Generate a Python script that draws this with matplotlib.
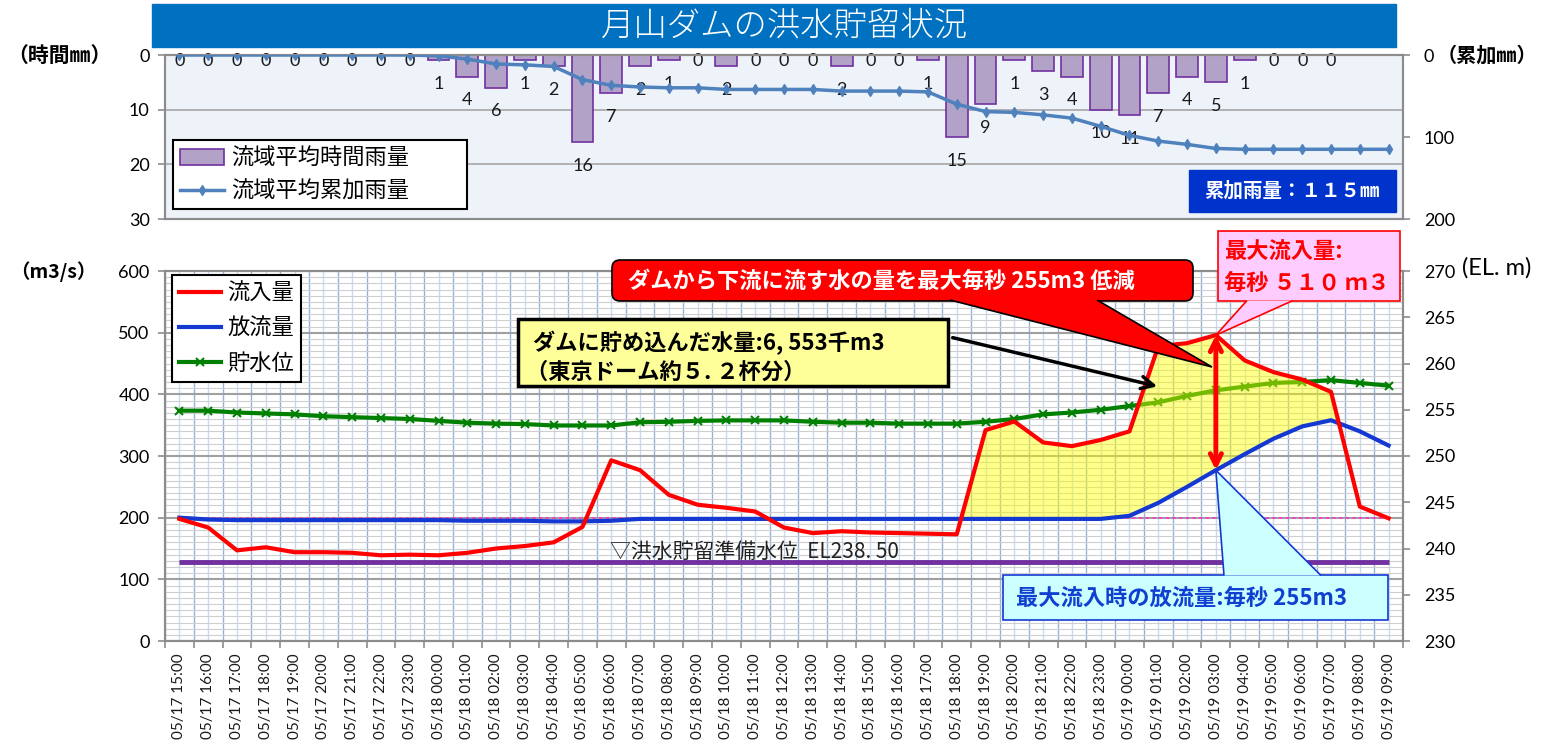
import numpy as np
import pandas as pd
import matplotlib
matplotlib.use("Agg")
import matplotlib.pyplot as plt
from matplotlib.patches import Rectangle, FancyBboxPatch, Polygon, FancyArrowPatch
from matplotlib.ticker import MultipleLocator
from matplotlib.transforms import IdentityTransform

W, H = 1551, 747
JP = ['Noto Sans CJK JP', 'DejaVu Sans']
plt.rcParams['font.family'] = ['Lato', 'Noto Sans CJK JP', 'DejaVu Sans']

# ---- データ (1時間ごと, 05/17 15:00 - 05/19 09:00) ----
times = pd.date_range("2018-05-17 15:00", periods=43, freq="h").strftime("%m/%d %H:%M")

rain = [0, 0, 0, 0, 0, 0, 0, 0, 0, 1, 4, 6, 1, 2, 16, 7, 2, 1, 0, 2, 0, 0,
        0, 2, 0, 0, 1, 15, 9, 1, 3, 4, 10, 11, 7, 4, 5, 1, 0, 0, 0, np.nan, np.nan]
cum_rain = [0, 0, 0, 0, 0, 0, 0, 0, 0, 1, 5, 11, 12, 14, 30, 37, 39, 40, 40, 42, 42, 42,
            42, 44, 44, 44, 45, 60, 69, 70, 73, 77, 87, 98, 105, 109, 114, 115, 115, 115,
            115, 115, 115]
inflow = [198, 184, 147, 152, 144, 144, 143, 139, 140, 139, 143, 150, 154, 160, 185,
          293, 277, 237, 221, 216, 210, 184, 175, 178, 176, 175, 174, 173, 342, 356,
          322, 316, 326, 340, 478, 483, 496, 455, 436, 424, 404, 218, 199]
outflow = [200, 197, 196, 196, 196, 196, 196, 196, 196, 196, 195, 195, 195, 194, 194,
           195, 198, 198, 198, 198, 198, 198, 198, 198, 198, 198, 198, 198, 198, 198,
           198, 198, 198, 203, 224, 250, 277, 303, 328, 348, 358, 340, 317]
level = [254.9, 254.9, 254.7, 254.6, 254.5, 254.3, 254.2, 254.1, 254.0, 253.8, 253.6,
         253.5, 253.45, 253.3, 253.3, 253.3, 253.65, 253.7, 253.8, 253.85, 253.85, 253.85,
         253.7, 253.6, 253.6, 253.5, 253.5, 253.5, 253.7, 254.0, 254.5, 254.7, 255.0,
         255.4, 255.8, 256.5, 257.1, 257.5, 257.9, 258.0, 258.2, 257.9, 257.6]
prep_level = 238.5      # 洪水貯留準備水位
flood_flow = 200        # 洪水量
peak_idx = 36           # 最大流入時刻 (05/19 03:00)
store_from = 27         # 貯留開始 (05/18 18:00)

x = np.arange(len(times))
inflow = np.array(inflow, float)
outflow = np.array(outflow, float)

ID = IdentityTransform()


def P(px, py):
    # 左上原点のピクセル -> 表示座標
    return (px, H - py)


fig = plt.figure(figsize=(W / 100, H / 100), dpi=100)

# タイトルバー
fig.add_artist(Rectangle(P(152, 47), 1244, 43, color='#0070C0', transform=ID))
fig.text(*P(784, 26), "月山ダムの洪水貯留状況", transform=ID, ha='center', va='center',
         color='white', fontsize=24, family=JP, weight='light')

GRAY = '#8C8C8C'

# ---- 上段: 雨量 ----
axt = fig.add_axes([165 / W, 1 - 219 / H, 1238 / W, 164 / H])
axt.set_facecolor('#EEF3FA')
bars = axt.bar(x, rain, width=0.76, color='#B3A2C7', edgecolor='#7030A0',
               linewidth=1.2, zorder=2)
axt.set_xlim(-0.5, len(x) - 0.5)
axt.set_ylim(30, 0)
axt.set_yticks([0, 10, 20, 30])
axt.set_xticks([])
axt.yaxis.grid(True, color='#A6A6A6', lw=1.2)
axt.set_axisbelow(True)
for xi, v in zip(x, rain):
    if np.isnan(v):
        continue
    off = -4 if v == 0 else -17
    axt.annotate(f"{v:g}", (xi, v), xytext=(0, off), textcoords='offset points',
                 ha='center', va='center', fontsize=13, color='#1a1a1a', zorder=6)

axt2 = axt.twinx()
axt2.set_ylim(200, 0)
axt2.set_yticks([0, 100, 200])
cum_line, = axt2.plot(x, cum_rain, color='#4F81BD', lw=2.5, marker='d', ms=5, zorder=3)

for a in (axt, axt2):
    for s in a.spines.values():
        s.set_color(GRAY)
        s.set_linewidth(1.5)
axt.tick_params(axis='y', length=5, width=1.2, color=GRAY, pad=6, labelsize=13)
axt2.tick_params(axis='y', length=5, width=1.2, color=GRAY, pad=10, labelsize=13)

leg = axt2.legend([bars, cum_line], ["流域平均時間雨量", "流域平均累加雨量"],
                  loc='upper left', bbox_to_anchor=(173 / W, 1 - 210 / H, 294 / W, 70 / H),
                  bbox_transform=fig.transFigure, mode='expand', borderaxespad=0,
                  prop={'family': JP, 'size': 16}, fancybox=False, framealpha=1,
                  edgecolor='black', borderpad=0.3, labelspacing=0.45,
                  handlelength=2.0, handletextpad=0.3)
leg.get_frame().set_linewidth(1.5)

fig.add_artist(Rectangle(P(1189, 212), 207, 42, color='#0033CC', transform=ID))
fig.text(*P(1292, 191), "累加雨量：１１５㎜", transform=ID, ha='center', va='center',
         color='white', fontsize=14, weight='bold', family=JP)

fig.text(*P(7, 55), "（時間㎜）", transform=ID, va='center', fontsize=15,
         weight='bold', family=JP)
fig.text(*P(1437, 55), "（累加㎜）", transform=ID, va='center', fontsize=14.5,
         weight='bold', family=JP)

# ---- 下段: 流量・水位 ----
axb = fig.add_axes([165 / W, 1 - 641 / H, 1238 / W, 370 / H])
axb2 = axb.twinx()
axb.set_xlim(-0.5, len(x) - 0.5)
axb.set_ylim(0, 600)
axb2.set_ylim(230, 270)
axb.set_yticks(np.arange(0, 601, 100))
axb2.set_yticks(np.arange(230, 271, 5))
axb.yaxis.set_minor_locator(MultipleLocator(10))
axb.set_xticks(np.arange(-0.5, len(x), 1))
axb.set_xticklabels([])
axb.set_xticks(x, minor=True)
axb.set_xticklabels(times, minor=True, rotation=90, fontsize=11, color='#1a1a1a')

axb.grid(which='major', axis='x', color='#95B3D7', lw=1)
axb.grid(which='minor', axis='x', color='#C9DAF0', lw=1)
axb.grid(which='major', axis='y', color='#A0A0A0', lw=1.5)
axb.grid(which='minor', axis='y', color='#CFCFCF', lw=0.8)
axb.set_axisbelow(True)

axb.hlines(flood_flow, x[0], x[-1], colors='#FF33CC', lw=1.2, linestyles=(0, (2, 2)), zorder=2)
axb2.hlines(prep_level, x[0], x[-1], colors='#7030A0', lw=3.5, zorder=2)
lvl_line, = axb.plot(x, level, transform=axb2.transData, color='#008000', lw=3,
                     marker='x', ms=6, mew=1.5, zorder=3)
mask = (inflow > outflow) & (x >= store_from)
axb.fill_between(x, inflow, outflow, where=mask, interpolate=True, color='#FFFF00',
                 alpha=0.45, lw=0, zorder=4)
in_line, = axb.plot(x, inflow, color='#FF0000', lw=3, zorder=6)
out_line, = axb.plot(x, outflow, color='#1438D2', lw=3, zorder=5)
axb.set_xlim(-0.5, len(x) - 0.5)
axb.set_ylim(0, 600)
axb2.set_ylim(230, 270)

axb.annotate('', xy=(peak_idx, inflow[peak_idx]), xytext=(peak_idx, outflow[peak_idx]),
             arrowprops=dict(arrowstyle='<->', color='#FF0000', lw=3.5, mutation_scale=20,
                             shrinkA=0, shrinkB=0), zorder=7)

for a in (axb, axb2):
    for s in a.spines.values():
        s.set_color(GRAY)
        s.set_linewidth(1.5)
axb.tick_params(axis='y', which='major', length=5, width=1.2, color=GRAY, pad=6, labelsize=13)
axb.tick_params(axis='y', which='minor', length=0)
axb.tick_params(axis='x', which='major', length=5, width=1.2, color=GRAY)
axb.tick_params(axis='x', which='minor', length=0, pad=9)
axb2.tick_params(axis='y', length=5, width=1.2, color=GRAY, pad=10, labelsize=13)

leg2 = axb2.legend([in_line, out_line, lvl_line], ["流入量", "放流量", "貯水位"],
                   loc='upper left', bbox_to_anchor=(172 / W, 1 - 275 / H),
                   bbox_transform=fig.transFigure, borderaxespad=0,
                   prop={'family': JP, 'size': 16}, fancybox=False, framealpha=1,
                   edgecolor='black', borderpad=0.3, labelspacing=0.55,
                   handlelength=1.9, handletextpad=0.3)
leg2.get_frame().set_linewidth(1.5)

fig.text(*P(10, 272), "（m3/s）", transform=ID, va='center', fontsize=14,
         weight='bold', family=JP)
fig.text(*P(1462, 268), "(EL. m)", transform=ID, va='center', fontsize=17)
fig.text(*P(610, 552), "▽洪水貯留準備水位  EL238. 50", transform=ID, va='center',
         fontsize=15, family=JP, color='#222222')

# ---- 吹き出し ----
peak_pt = axb.transData.transform((peak_idx, inflow[peak_idx]))
rel_pt = axb.transData.transform((peak_idx, outflow[peak_idx]))

# 赤: 低減量
fig.add_artist(FancyBboxPatch(P(612, 301), 581, 41, boxstyle='round,pad=0,rounding_size=8',
                              fc='#FF0000', ec='black', lw=1.2, transform=ID))
fig.add_artist(Polygon([P(950, 300), P(1212, 367), P(1097, 300)], closed=False,
                       fc='#FF0000', ec='black', lw=1.2, transform=ID))
fig.text(*P(628, 281), "ダムから下流に流す水の量を最大毎秒 255m3 低減", transform=ID,
         va='center', color='white', fontsize=16, weight='bold', family=JP)

# 黄: 貯留量
fig.add_artist(Rectangle(P(518, 386), 430, 67, fc='#FFFF99', ec='black', lw=2.5,
                         transform=ID))
fig.text(*P(533, 343), "ダムに貯め込んだ水量:6, 553千m3", transform=ID, va='center',
         fontsize=16, weight='bold', family=JP)
fig.text(*P(526, 372), "（東京ドーム約５. ２杯分）", transform=ID, va='center',
         fontsize=16, weight='bold', family=JP)
fig.add_artist(FancyArrowPatch(P(950, 337), P(1160, 387), arrowstyle='->',
                               mutation_scale=22, lw=2.5, color='black', transform=ID))

# 桃: 最大流入量
fig.add_artist(Rectangle(P(1218, 301), 182, 70, fc='#FFCCFF', ec='#FF0000', lw=1.2,
                         transform=ID))
fig.add_artist(Polygon([P(1247, 300.5), tuple(peak_pt), P(1293, 300.5)], closed=False,
                       fc='#FFCCFF', ec='#FF0000', lw=1.2, transform=ID))
fig.text(*P(1224, 252), "最大流入量:", transform=ID, va='center', color='#FF0000',
         fontsize=16, weight='bold', family=JP)
fig.text(*P(1224, 283), "毎秒 ５１０ ｍ３", transform=ID, va='center', color='#FF0000',
         fontsize=16, weight='bold', family=JP)

# 水色: 最大流入時の放流量
fig.add_artist(Rectangle(P(1003, 620), 385, 45, fc='#CCFFFF', ec='#1438D2', lw=1.2,
                         transform=ID))
fig.add_artist(Polygon([P(1224, 575.5), tuple(rel_pt), P(1321, 575.5)], closed=False,
                       fc='#CCFFFF', ec='#1438D2', lw=1.2, transform=ID))
fig.text(*P(1016, 598), "最大流入時の放流量:毎秒 255m3", transform=ID, va='center',
         color='#1040D0', fontsize=16, weight='bold', family=JP)

fig.savefig("out.png", dpi=100)
